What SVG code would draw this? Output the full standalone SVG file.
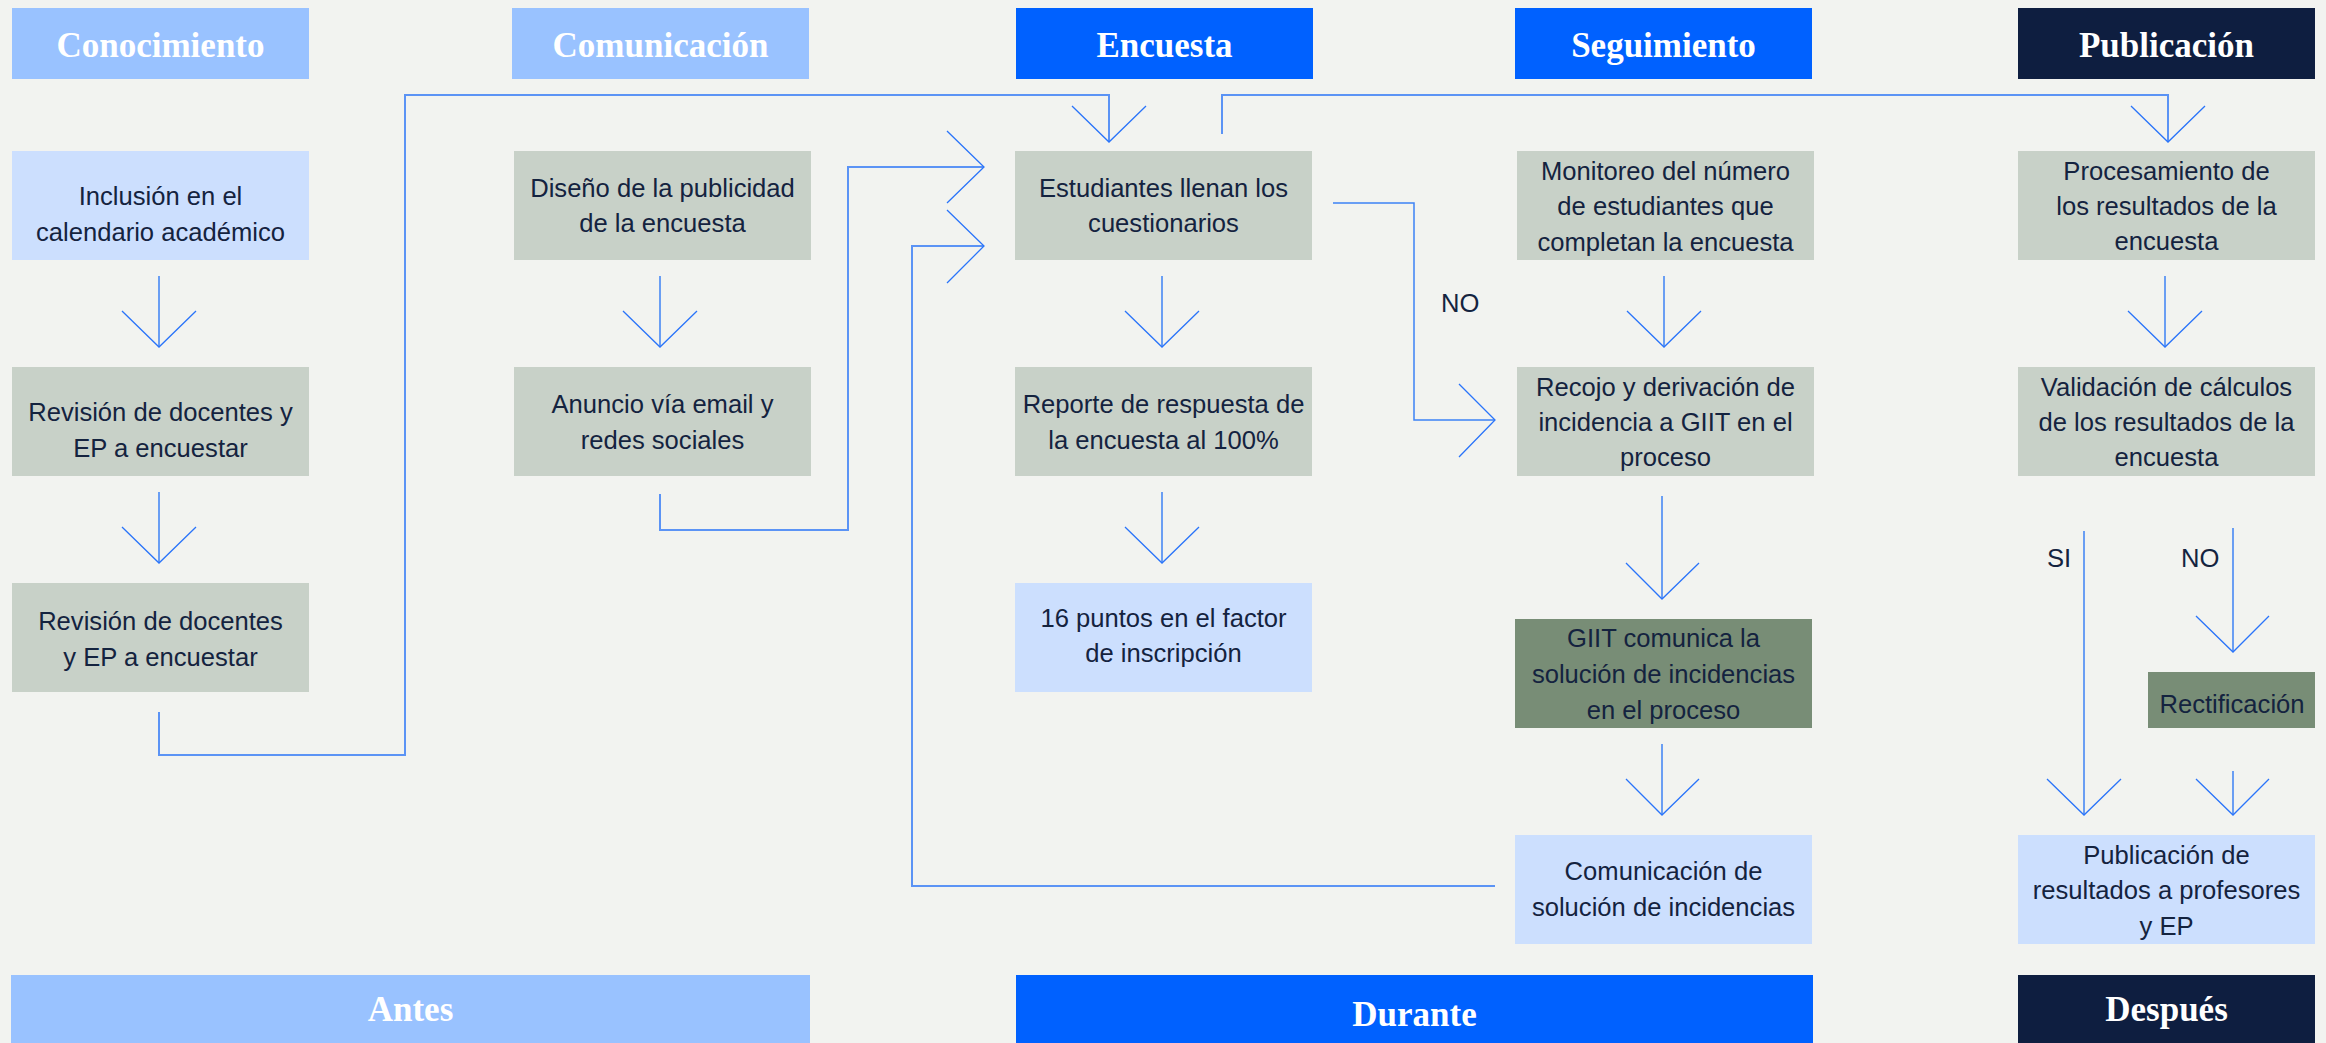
<svg xmlns="http://www.w3.org/2000/svg" width="2326" height="1043" viewBox="0 0 2326 1043">
<defs>
<style>
.bg{fill:#F2F3F0}
.hl{fill:#99C2FF}
.hb{fill:#0061FF}
.hd{fill:#0E1E40}
.nb{fill:#CCDFFE}
.ng{fill:#C8D1C8}
.nd{fill:#788D76}
.ht{font-family:"Liberation Serif",serif;font-weight:bold;font-size:35px;fill:#FFFFFF;text-anchor:middle}
.t{font-family:"Liberation Sans",Arial,sans-serif;font-size:25.6px;fill:#14233F;text-anchor:middle}
.lbl{font-family:"Liberation Sans",Arial,sans-serif;font-size:25.6px;fill:#14233F}
.route{fill:none;stroke:#5B93F5;stroke-width:2}
.ln{fill:none;stroke:#3D82F5;stroke-width:1.5}
.wing{fill:none;stroke:#2A74FA;stroke-width:1.3}
</style>
</defs>
<rect class="bg" x="0" y="0" width="2326" height="1043"/>

<g id="headers">
<g id="h-conocimiento"><rect class="hl" x="12" y="8" width="297" height="71"/><text class="ht" x="160.5" y="57">Conocimiento</text></g>
<g id="h-comunicacion"><rect class="hl" x="512" y="8" width="297" height="71"/><text class="ht" x="660.5" y="57">Comunicación</text></g>
<g id="h-encuesta"><rect class="hb" x="1016" y="8" width="297" height="71"/><text class="ht" x="1164.5" y="57">Encuesta</text></g>
<g id="h-seguimiento"><rect class="hb" x="1515" y="8" width="297" height="71"/><text class="ht" x="1663.5" y="57">Seguimiento</text></g>
<g id="h-publicacion"><rect class="hd" x="2018" y="8" width="297" height="71"/><text class="ht" x="2166.5" y="57">Publicación</text></g>
</g>

<g id="footers">
<g id="f-antes"><rect class="hl" x="11" y="975" width="799" height="68"/><text class="ht" x="410.5" y="1021">Antes</text></g>
<g id="f-durante"><rect class="hb" x="1016" y="975" width="797" height="68"/><text class="ht" x="1414.5" y="1026">Durante</text></g>
<g id="f-despues"><rect class="hd" x="2018" y="975" width="297" height="68"/><text class="ht" x="2166.5" y="1021">Después</text></g>
</g>

<g id="connectors">
<line class="ln" x1="159" y1="276" x2="159" y2="347"/>
<polyline class="wing" points="122,311 159,347 196,311"/>
<line class="ln" x1="159" y1="492" x2="159" y2="563"/>
<polyline class="wing" points="122,527 159,563 196,527"/>
<polyline class="route" points="159,712 159,755 405,755 405,95 1109,95 1109,142"/>
<polyline class="wing" points="1072,106 1109,142 1146,106"/>
<line class="ln" x1="660" y1="276" x2="660" y2="347"/>
<polyline class="wing" points="623,311 660,347 697,311"/>
<polyline class="route" points="660,494 660,530 848,530 848,167 984,167"/>
<polyline class="wing" points="947,131 984,167 947,203"/>
<polyline class="route" points="1495,886 912,886 912,246 984,246"/>
<polyline class="wing" points="947,210 984,246 947,283"/>
<line class="ln" x1="1162" y1="276" x2="1162" y2="347"/>
<polyline class="wing" points="1125,311 1162,347 1199,311"/>
<line class="ln" x1="1162" y1="492" x2="1162" y2="563"/>
<polyline class="wing" points="1125,527 1162,563 1199,527"/>
<polyline class="route" points="1222,134 1222,95 2168,95 2168,142"/>
<polyline class="wing" points="2131,106 2168,142 2205,106"/>
<polyline class="ln" points="1333,203 1414,203 1414,420 1495,420"/>
<polyline class="wing" points="1459,384 1495,420 1459,457"/>
<line class="ln" x1="1664" y1="276" x2="1664" y2="347"/>
<polyline class="wing" points="1627,311 1664,347 1701,311"/>
<line class="ln" x1="1662" y1="496" x2="1662" y2="599"/>
<polyline class="wing" points="1626,563 1662,599 1699,563"/>
<line class="ln" x1="1662" y1="744" x2="1662" y2="815"/>
<polyline class="wing" points="1626,779 1662,815 1699,779"/>
<line class="ln" x1="2165" y1="276" x2="2165" y2="347"/>
<polyline class="wing" points="2128,311 2165,347 2202,311"/>
<line class="ln" x1="2084" y1="531" x2="2084" y2="815"/>
<polyline class="wing" points="2047,779 2084,815 2121,779"/>
<line class="ln" x1="2233" y1="528" x2="2233" y2="652"/>
<polyline class="wing" points="2196,616 2233,652 2269,616"/>
<line class="ln" x1="2233" y1="771" x2="2233" y2="815"/>
<polyline class="wing" points="2196,779 2233,815 2269,779"/>
<text class="lbl" x="1441" y="312">NO</text>
<text class="lbl" x="2047" y="567">SI</text>
<text class="lbl" x="2181" y="567">NO</text>
</g>

<g id="n-inclusion"><rect class="nb" x="12" y="151" width="297" height="109"/><text class="t" x="160.5" y="205">Inclusión en el</text><text class="t" x="160.5" y="241">calendario académico</text></g>
<g id="n-revision1"><rect class="ng" x="12" y="367" width="297" height="109"/><text class="t" x="160.5" y="421">Revisión de docentes y</text><text class="t" x="160.5" y="457">EP a encuestar</text></g>
<g id="n-revision2"><rect class="ng" x="12" y="583" width="297" height="109"/><text class="t" x="160.5" y="630">Revisión de docentes</text><text class="t" x="160.5" y="666">y EP a encuestar</text></g>

<g id="n-diseno"><rect class="ng" x="514" y="151" width="297" height="109"/><text class="t" x="662.5" y="197">Diseño de la publicidad</text><text class="t" x="662.5" y="232">de la encuesta</text></g>
<g id="n-anuncio"><rect class="ng" x="514" y="367" width="297" height="109"/><text class="t" x="662.5" y="413">Anuncio vía email y</text><text class="t" x="662.5" y="449">redes sociales</text></g>

<g id="n-estudiantes"><rect class="ng" x="1015" y="151" width="297" height="109"/><text class="t" x="1163.5" y="197">Estudiantes llenan los</text><text class="t" x="1163.5" y="232">cuestionarios</text></g>
<g id="n-reporte"><rect class="ng" x="1015" y="367" width="297" height="109"/><text class="t" x="1163.5" y="413">Reporte de respuesta de</text><text class="t" x="1163.5" y="449">la encuesta al 100%</text></g>
<g id="n-puntos"><rect class="nb" x="1015" y="583" width="297" height="109"/><text class="t" x="1163.5" y="627">16 puntos en el factor</text><text class="t" x="1163.5" y="662">de inscripción</text></g>

<g id="n-monitoreo"><rect class="ng" x="1517" y="151" width="297" height="109"/><text class="t" x="1665.5" y="180">Monitoreo del número</text><text class="t" x="1665.5" y="215">de estudiantes que</text><text class="t" x="1665.5" y="251">completan la encuesta</text></g>
<g id="n-recojo"><rect class="ng" x="1517" y="367" width="297" height="109"/><text class="t" x="1665.5" y="396">Recojo y derivación de</text><text class="t" x="1665.5" y="431">incidencia a GIIT en el</text><text class="t" x="1665.5" y="466">proceso</text></g>
<g id="n-giit"><rect class="nd" x="1515" y="619" width="297" height="109"/><text class="t" x="1663.5" y="647">GIIT comunica la</text><text class="t" x="1663.5" y="683">solución de incidencias</text><text class="t" x="1663.5" y="719">en el proceso</text></g>
<g id="n-comsol"><rect class="nb" x="1515" y="835" width="297" height="109"/><text class="t" x="1663.5" y="880">Comunicación de</text><text class="t" x="1663.5" y="916">solución de incidencias</text></g>

<g id="n-procesamiento"><rect class="ng" x="2018" y="151" width="297" height="109"/><text class="t" x="2166.5" y="180">Procesamiento de</text><text class="t" x="2166.5" y="215">los resultados de la</text><text class="t" x="2166.5" y="250">encuesta</text></g>
<g id="n-validacion"><rect class="ng" x="2018" y="367" width="297" height="109"/><text class="t" x="2166.5" y="396">Validación de cálculos</text><text class="t" x="2166.5" y="431">de los resultados de la</text><text class="t" x="2166.5" y="466">encuesta</text></g>
<g id="n-rectificacion"><rect class="nd" x="2148" y="672" width="167" height="56"/><text class="t" x="2232" y="713">Rectificación</text></g>
<g id="n-publicacion"><rect class="nb" x="2018" y="835" width="297" height="109"/><text class="t" x="2166.5" y="864">Publicación de</text><text class="t" x="2166.5" y="899">resultados a profesores</text><text class="t" x="2166.5" y="935">y EP</text></g>
</svg>
